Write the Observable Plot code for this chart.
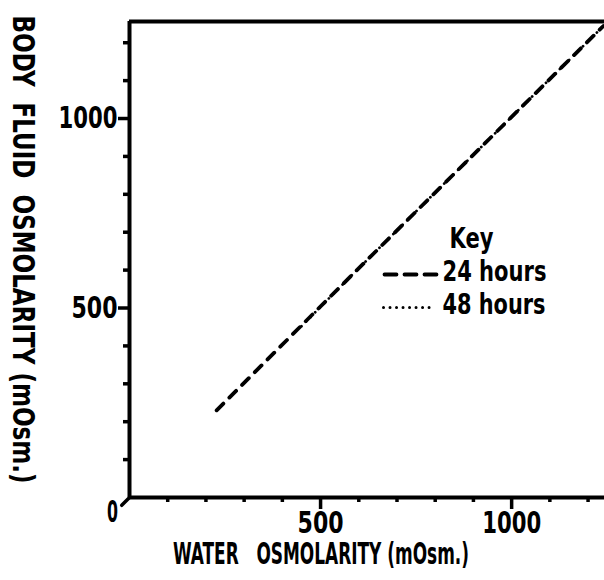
<!DOCTYPE html>
<html><head><meta charset="utf-8">
<script src="https://cdn.jsdelivr.net/npm/d3@7"></script>
<script src="https://cdn.jsdelivr.net/npm/@observablehq/plot@0.6"></script>
<style>
html,body{margin:0;padding:0;background:#fff;}
svg text{white-space:pre;font-weight:bold;}
</style></head><body><div id="chart"></div>
<script>
// ---- data ----
const seriesNames = ["24 hours", "48 hours"];
const water24 = [228, 580, 1240];
const body24  = [230, 585, 1244];
const water48 = [450, 580, 1240];
const body48  = [452, 585, 1244];
const majorTicks = [500, 1000];
const minorTicks = [100, 200, 300, 400, 600, 700, 800, 900, 1100, 1200];
const zeroLabel = ["0"];
const origin = [0];
const xTitle = "WATER   OSMOLARITY (mOsm.)";
const yTitle = "BODY  FLUID  OSMOLARITY (mOsm.)";
const keyTitle = "Key";
const xMax = 1243, yMax = 1256;

// ---- styling ----
const font = "'DejaVu Sans Condensed','Liberation Sans Narrow','Arial Narrow',sans-serif";
const textWidths = {"1000": 59, "500": 46, "0": 11, [xTitle]: 296, [yTitle]: 468, [keyTitle]: 44, "24 hours": 104, "48 hours": 103};
const lineShape = {draw(ctx, l) { ctx.moveTo(0, 0); ctx.lineTo(0, -l); }};

const rows24 = water24.map((x, i) => ({series: seriesNames[0], x, y: body24[i]}));
const rows48 = water48.map((x, i) => ({series: seriesNames[1], x, y: body48[i]}));

const plot = Plot.plot({
  width: 604, height: 580,
  marginLeft: 129, marginRight: 0, marginTop: 21, marginBottom: 83,
  style: {fontFamily: font, background: "#fff", color: "#000"},
  x: {domain: [0, xMax]},
  y: {domain: [0, yMax]},
  marks: [
    Plot.axisX(minorTicks, {tickSize: 5, strokeWidth: 3.5, tickFormat: () => "", label: null}),
    Plot.axisY(minorTicks, {tickSize: 6, strokeWidth: 3.5, tickFormat: () => "", label: null}),
    Plot.axisX(majorTicks, {tickSize: 12, tickPadding: 1, strokeWidth: 3.5, fontSize: 31, tickFormat: d => String(d), label: null}),
    Plot.axisY(majorTicks, {tickSize: 11, tickPadding: 1, strokeWidth: 3.5, fontSize: 31, tickFormat: d => String(d), label: null}),
    Plot.ruleX([0], {strokeWidth: 4}),
    Plot.ruleY([0, yMax], {strokeWidth: 4}),
    Plot.text(zeroLabel, {x: () => 0, y: () => 0, text: d => d, dx: -17, dy: 15, fontSize: 31}),
    Plot.line(rows24, {x: "x", y: "y", strokeWidth: 3.8, strokeDasharray: "9.5,8.5", strokeLinecap: "round"}),
    Plot.line(rows48, {x: "x", y: "y", strokeWidth: 2.8, strokeDasharray: "0.01,6.5", strokeLinecap: "round"}),
    Plot.vector(origin, {x: d => d, y: d => d, rotate: 225, length: 11, anchor: "start", shape: lineShape, strokeWidth: 3.5, strokeLinecap: "round"}),
    Plot.text([yTitle], {frameAnchor: "left", text: d => d, rotate: 90, dx: -107, dy: -10, fontSize: 30, textAnchor: "middle", lineAnchor: "middle"}),
    Plot.text([xTitle], {frameAnchor: "bottom", text: d => d, dx: -46, dy: 57, fontSize: 30, textAnchor: "middle", lineAnchor: "middle"}),
    Plot.text([keyTitle], {frameAnchor: "top-left", text: d => d, dx: 320, dy: 218, fontSize: 28, textAnchor: "start", lineAnchor: "middle"}),
    Plot.text([seriesNames[0]], {frameAnchor: "top-left", text: d => d, dx: 313, dy: 251, fontSize: 28, textAnchor: "start", lineAnchor: "middle"}),
    Plot.text([seriesNames[1]], {frameAnchor: "top-left", text: d => d, dx: 313, dy: 284, fontSize: 28, textAnchor: "start", lineAnchor: "middle"}),
    Plot.vector([seriesNames[0]], {frameAnchor: "top-left", dx: 255, dy: 253, rotate: 90, length: 52, anchor: "start", shape: lineShape, strokeWidth: 3.8, strokeDasharray: "12,8", strokeLinecap: "round"}),
    Plot.vector([seriesNames[1]], {frameAnchor: "top-left", dx: 254, dy: 286, rotate: 90, length: 52, anchor: "start", shape: lineShape, strokeWidth: 3, strokeDasharray: "0.01,6.5", strokeLinecap: "round"})
  ]
});

d3.select(plot).selectAll("text").each(function() {
  const t = this.textContent;
  if (textWidths[t] != null) {
    this.setAttribute("textLength", textWidths[t]);
    this.setAttribute("lengthAdjust", "spacingAndGlyphs");
  }
});
document.getElementById("chart").append(plot);
</script></body></html>
